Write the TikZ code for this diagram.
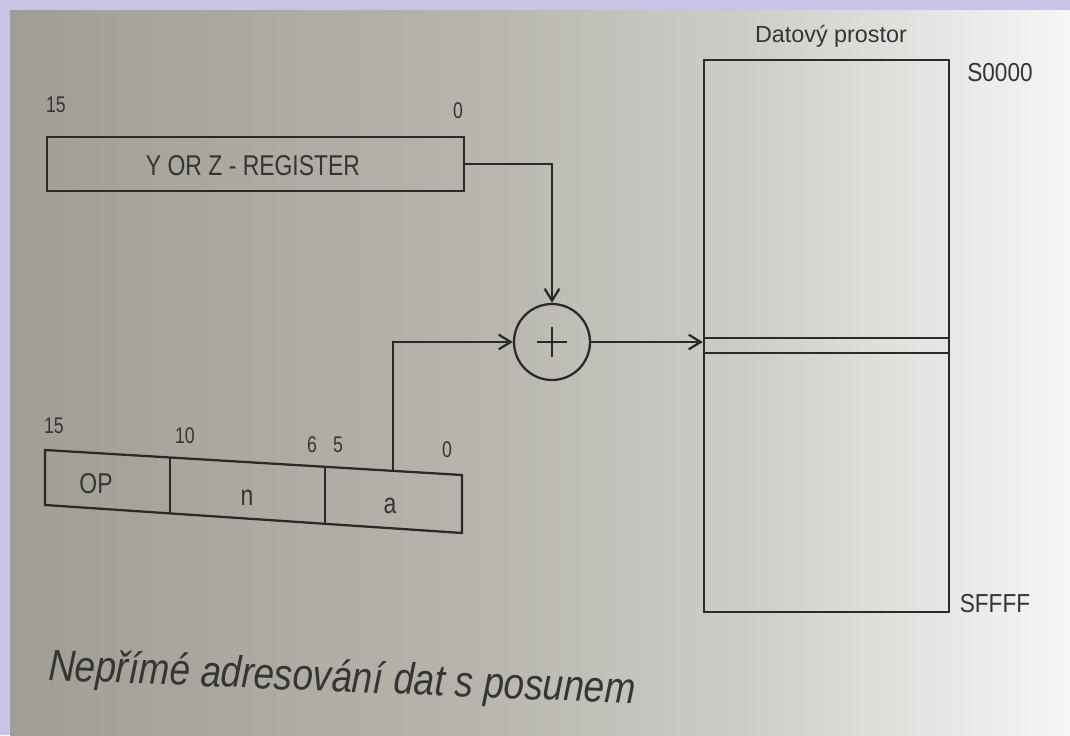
\documentclass[tikz,border=0pt]{standalone}
\usepackage{fontspec}
\setmainfont{Liberation Sans}
\usepackage{graphicx}
\usetikzlibrary{arrows.meta,calc}
\definecolor{ink}{HTML}{2A2A2A}
\definecolor{txt}{HTML}{353535}
\definecolor{lav}{HTML}{C9C3E6}
\definecolor{pgA}{RGB}{160,158,148}
\definecolor{pgB}{RGB}{181,179,171}
\definecolor{pgC}{RGB}{206,206,201}
\definecolor{pgD}{RGB}{230,230,228}
\definecolor{pgE}{RGB}{246,246,246}
% the path is mapped onto 25bp..75bp of the shading
\pgfdeclarehorizontalshading{pageshade}{100bp}{color(0bp)=(pgA); color(25bp)=(pgA); color(46bp)=(pgB); color(60bp)=(pgC); color(69bp)=(pgD); color(75bp)=(pgE); color(100bp)=(pgE)}
\newcommand{\nar}[2]{\scalebox{#1}[1]{#2}}
\tikzset{
  wire/.style={draw=ink, line width=1.7pt},
  arr/.style={wire, -{Straight Barb[length=9pt,width=11pt,line width=1.7pt]}},
  lbl/.style={text=txt, inner sep=0pt, anchor=base},
  boxnode/.style={wire, rectangle, inner sep=0pt},
  big/.style={font=\fontsize{21.5}{21.5}\selectfont},
  bits/.style={font=\fontsize{17}{17}\selectfont},
}
\begin{document}
\begin{tikzpicture}[x=0.75pt,y=-0.75pt]
\useasboundingbox (0,0) rectangle (1070,735);
\fill[lav] (0,0) rectangle (1070,735);
\shade[shading=pageshade] (10,11) rectangle (1070,735);

% register
\node[boxnode, minimum width=312.75pt, minimum height=40.5pt] (reg) at (255.5,164) {};
\node[lbl, big] (regtxt) at (253,175) {\nar{0.8}{Y OR Z - REGISTER}};
\node[lbl, bits] (r15) at (56,113) {\nar{0.78}{15}};
\node[lbl, bits] (r0) at (458,118) {\nar{0.78}{0}};

% adder
\node[wire, circle, minimum size=57pt, inner sep=0pt] (sum) at (552,342) {};
\draw[draw=ink, line width=1.2pt] ($(sum.center)+(-15,0)$) -- ($(sum.center)+(15,0)$);
\draw[draw=ink, line width=1.2pt] ($(sum.center)+(0,-15)$) -- ($(sum.center)+(0,15)$);

% data space
\node[boxnode, minimum width=183.75pt, minimum height=414pt] (mem) at (826.5,336) {};
\coordinate (slotT) at (0,338);
\coordinate (slotB) at (0,353);
\draw[wire] (mem.west |- slotT) -- (mem.east |- slotT);
\draw[wire] (mem.west |- slotB) -- (mem.east |- slotB);
\node[lbl, font=\fontsize{17.5}{17.5}\selectfont] (dp) at (831,43) {Datový prostor};
\node[lbl, font=\fontsize{19.5}{19.5}\selectfont] (s0) at (1000,82) {\nar{0.87}{S0000}};
\node[lbl, font=\fontsize{19.5}{19.5}\selectfont] (sf) at (995,612) {\nar{0.87}{SFFFF}};

% instruction word
\coordinate (iTL) at (45,450);
\coordinate (iTR) at (462,475);
\coordinate (iBR) at (462,533);
\coordinate (iBL) at (45,505);
\draw[wire, line join=miter] (iTL) -- (iTR) -- (iBR) -- (iBL) -- cycle;
\draw[wire] ($(iTL)!0.3!(iTR)$) -- ($(iBL)!0.3!(iBR)$);
\draw[wire] ($(iTL)!0.672!(iTR)$) -- ($(iBL)!0.672!(iBR)$);
\coordinate (afield) at ($(iTL)!0.834!(iTR)$);
\node[lbl, big] (op) at (96,493) {\nar{0.8}{OP}};
\node[lbl, big] (nf) at (247,505) {\nar{0.8}{n}};
\node[lbl, big] (af) at (390,513) {\nar{0.8}{a}};
\node[lbl, bits] (b15) at (54,433) {\nar{0.78}{15}};
\node[lbl, bits] (b10) at (185,443) {\nar{0.78}{10}};
\node[lbl, bits] (b6) at (312,452) {\nar{0.78}{6}};
\node[lbl, bits] (b5) at (338,452) {\nar{0.78}{5}};
\node[lbl, bits] (b0) at (447,457) {\nar{0.78}{0}};

% connectors
\draw[arr] (reg.east) -| (sum.north);
\draw[arr] (afield) |- (sum.west);
\draw[arr] (sum.east) -- (sum.east -| mem.west);

% caption
\node[text=txt, inner sep=0pt, anchor=base west, rotate=-2.3, font=\itshape\fontsize{33}{33}\selectfont] (cap) at (48,680) {\nar{0.84}{Nepřímé adresování dat s posunem}};
\end{tikzpicture}
\end{document}
